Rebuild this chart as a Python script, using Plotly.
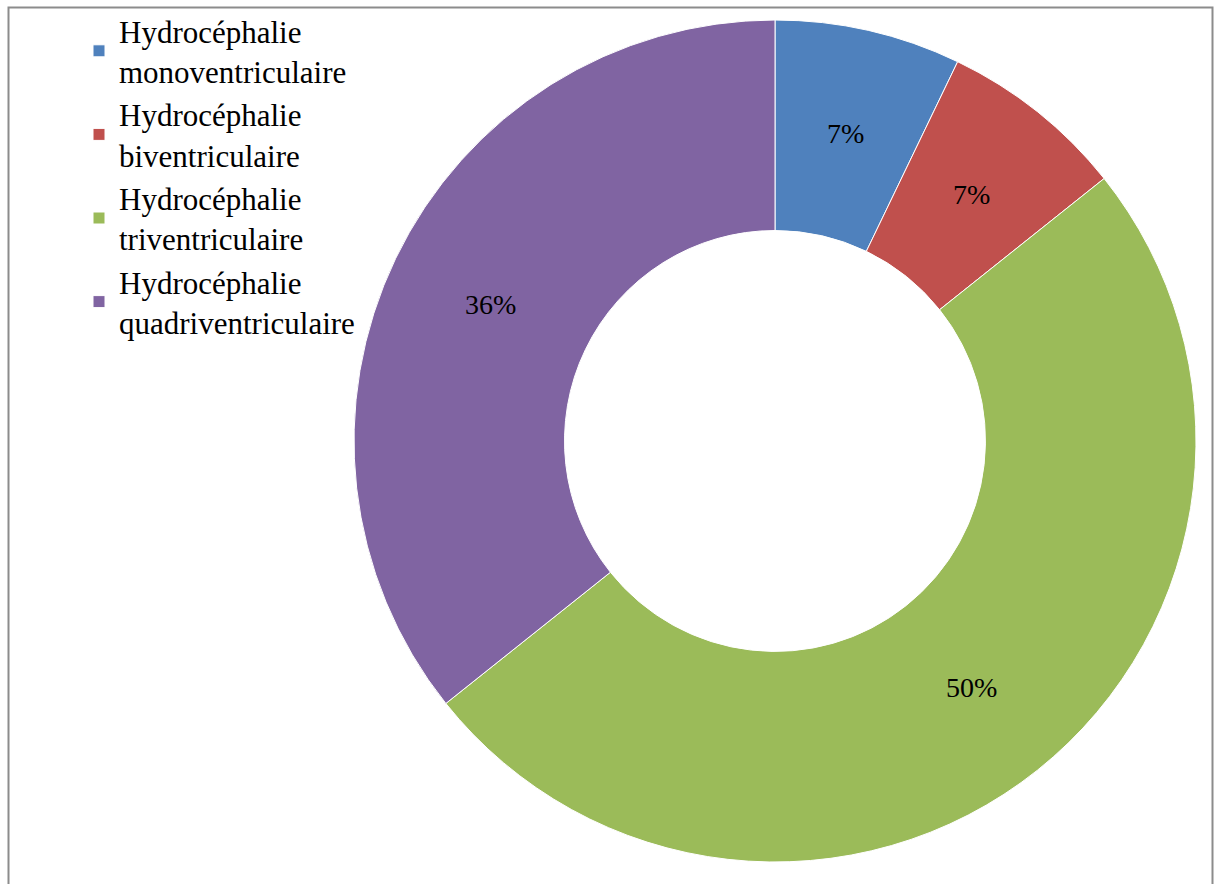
import math
import plotly.graph_objects as go

W, H = 1224, 884

categories = [
    "Hydrocéphalie<br>monoventriculaire",
    "Hydrocéphalie<br>biventriculaire",
    "Hydrocéphalie<br>triventriculaire",
    "Hydrocéphalie<br>quadriventriculaire",
]
counts = [1, 1, 7, 5]
colors = ["#4F81BD", "#C0504D", "#9BBB59", "#8064A2"]

# donut geometry in pixels
cx, cy, R = 775, 441, 421
HOLE = 0.5

fig = go.Figure(
    go.Pie(
        labels=categories,
        values=counts,
        hole=HOLE,
        sort=False,
        direction="clockwise",
        rotation=0,
        marker=dict(colors=colors, line=dict(color="white", width=1)),
        textinfo="none",
        domain=dict(
            x=[(cx - R) / W, (cx + R) / W],
            y=[(H - cy - R) / H, (H - cy + R) / H],
        ),
    )
)

# percentage labels centred in the middle of each ring segment
total = sum(counts)
r_mid = R * (1 + HOLE) / 2
start = 0.0
for v in counts:
    frac = v / total
    mid = (start + frac / 2) * 2 * math.pi  # clockwise from 12 o'clock
    start += frac
    px = cx + r_mid * math.sin(mid)
    py = cy - r_mid * math.cos(mid)
    fig.add_annotation(
        x=px / W,
        y=1 - py / H,
        xref="paper",
        yref="paper",
        text=f"{round(frac * 100)}%",
        showarrow=False,
        font=dict(family="Liberation Serif", size=28, color="black"),
        xanchor="center",
        yanchor="middle",
    )

fig.update_layout(
    width=W,
    height=H,
    margin=dict(l=0, r=0, t=0, b=0),
    paper_bgcolor="white",
    plot_bgcolor="white",
    font=dict(family="Liberation Serif", size=31, color="black"),
    legend=dict(
        x=79 / W,
        y=1 - 4 / H,
        xanchor="left",
        yanchor="top",
        font=dict(family="Liberation Serif", size=31, color="black"),
        itemwidth=30,
        tracegroupgap=0,
        bgcolor="rgba(0,0,0,0)",
    ),
    shapes=[
        dict(
            type="rect",
            xref="paper",
            yref="paper",
            x0=8.5 / W,
            x1=1212.5 / W,
            y0=-0.02,
            y1=1 - 7.5 / H,
            line=dict(color="#8C8C8C", width=2),
            fillcolor="rgba(0,0,0,0)",
        )
    ],
)

fig.write_html("out.html")
